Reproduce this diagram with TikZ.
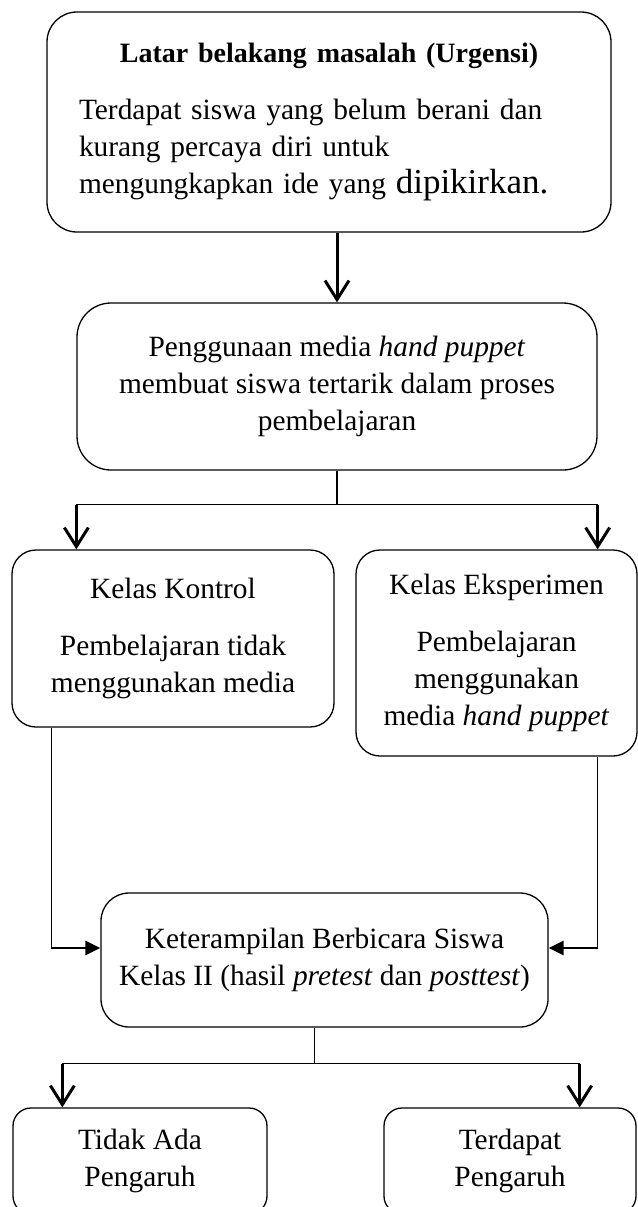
\documentclass[tikz,border=0pt]{standalone}
\usepackage{fontspec}
\setmainfont{Liberation Serif}
\usetikzlibrary{arrows.meta}

\begin{document}
\begin{tikzpicture}[x=0.5pt,y=-0.5pt,
    kotak/.style={draw, line width=0.65pt, rounded corners=12pt, align=center, inner sep=0pt,
      font=\fontsize{14.7}{18.5}\selectfont},
    garis/.style={line width=0.55pt},
    panahbawah/.style={line width=1.5pt, -{Straight Barb[length=9.5pt,width=12pt]}},
    panahsamping/.style={line width=1.3pt, -{Triangle[length=7.5pt,width=7pt]}}]
  \useasboundingbox (0,0) rectangle (638,1207);
  \clip (0,0) rectangle (638,1207);
  % kotak-kotak
  \node[kotak, rounded corners=15pt, minimum width=282pt, minimum height=110pt, text width=250pt] (latar) at (329,122)
    {{\fontsize{14}{18.5}\selectfont\textbf{Latar belakang masalah (Urgensi)}}\par\vspace{10pt}
     {\raggedright Terdapat siswa yang belum berani dan\\ kurang percaya diri untuk\\
      mengungkapkan ide yang {\fontsize{17.5}{18.5}\selectfont dipikirkan.}\par}};
  \node[kotak, rounded corners=17pt, minimum width=260pt, minimum height=83.5pt] (media) at (337,386.5)
    {Penggunaan media \textit{hand puppet}\\ membuat siswa tertarik dalam proses\\ pembelajaran};
  \node[kotak, minimum width=161pt, minimum height=88.5pt] (kontrol) at (173,638.5)
    {Kelas Kontrol\\[10pt] Pembelajaran tidak\\ menggunakan media};
  \node[kotak, minimum width=140.5pt, minimum height=103pt] (eksperimen) at (496.5,653)
    {Kelas Eksperimen\\[10pt] Pembelajaran\\ menggunakan\\ media \textit{hand puppet}};
  \node[kotak, rounded corners=14pt, minimum width=223.5pt, minimum height=67pt] (terampil) at (324.5,960)
    {Keterampilan Berbicara Siswa\\ Kelas II (hasil \textit{pretest} dan \textit{posttest})};
  \node[kotak, rounded corners=9pt, minimum width=127pt, minimum height=53pt] (tidak) at (140,1161)
    {Tidak Ada\\ Pengaruh};
  \node[kotak, rounded corners=9pt, minimum width=126pt, minimum height=53pt] (ada) at (510,1161)
    {Terdapat\\ Pengaruh};
  % panah
  \draw[panahbawah] (latar.south -| media.north) -- (media.north);
  \coordinate (cabang1) at ([yshift=-17pt]media.south);
  \draw[garis] (media.south) -- (cabang1);
  \draw[garis] (cabang1 -| media.west) -- (cabang1 -| media.east);
  \draw[panahbawah] (cabang1 -| media.west) -- (kontrol.north -| media.west);
  \draw[panahbawah] (cabang1 -| media.east) -- (eksperimen.north -| media.east);
  \coordinate (kiri) at ([xshift=20pt]kontrol.south west);
  \coordinate (kanan) at (eksperimen.south -| media.east);
  \coordinate (masukkiri) at ([yshift=6pt]terampil.west);
  \coordinate (masukkanan) at ([yshift=6pt]terampil.east);
  \draw[garis] (kiri) -- (kiri |- masukkiri);
  \draw[panahsamping] (kiri |- masukkiri) -- (masukkiri);
  \draw[garis] (kanan) -- (kanan |- masukkanan);
  \draw[panahsamping] (kanan |- masukkanan) -- (masukkanan);
  \coordinate (cabang2) at ([xshift=-5pt,yshift=-18pt]terampil.south);
  \coordinate (kiri2) at ([xshift=25pt]tidak.north west);
  \coordinate (kanan2) at ([xshift=-28.5pt]ada.north east);
  \draw[garis] (cabang2 |- terampil.south) -- (cabang2);
  \draw[garis] (cabang2 -| kiri2) -- (cabang2 -| kanan2);
  \draw[panahbawah] (cabang2 -| kiri2) -- (kiri2);
  \draw[panahbawah] (cabang2 -| kanan2) -- (kanan2);
\end{tikzpicture}
\end{document}
